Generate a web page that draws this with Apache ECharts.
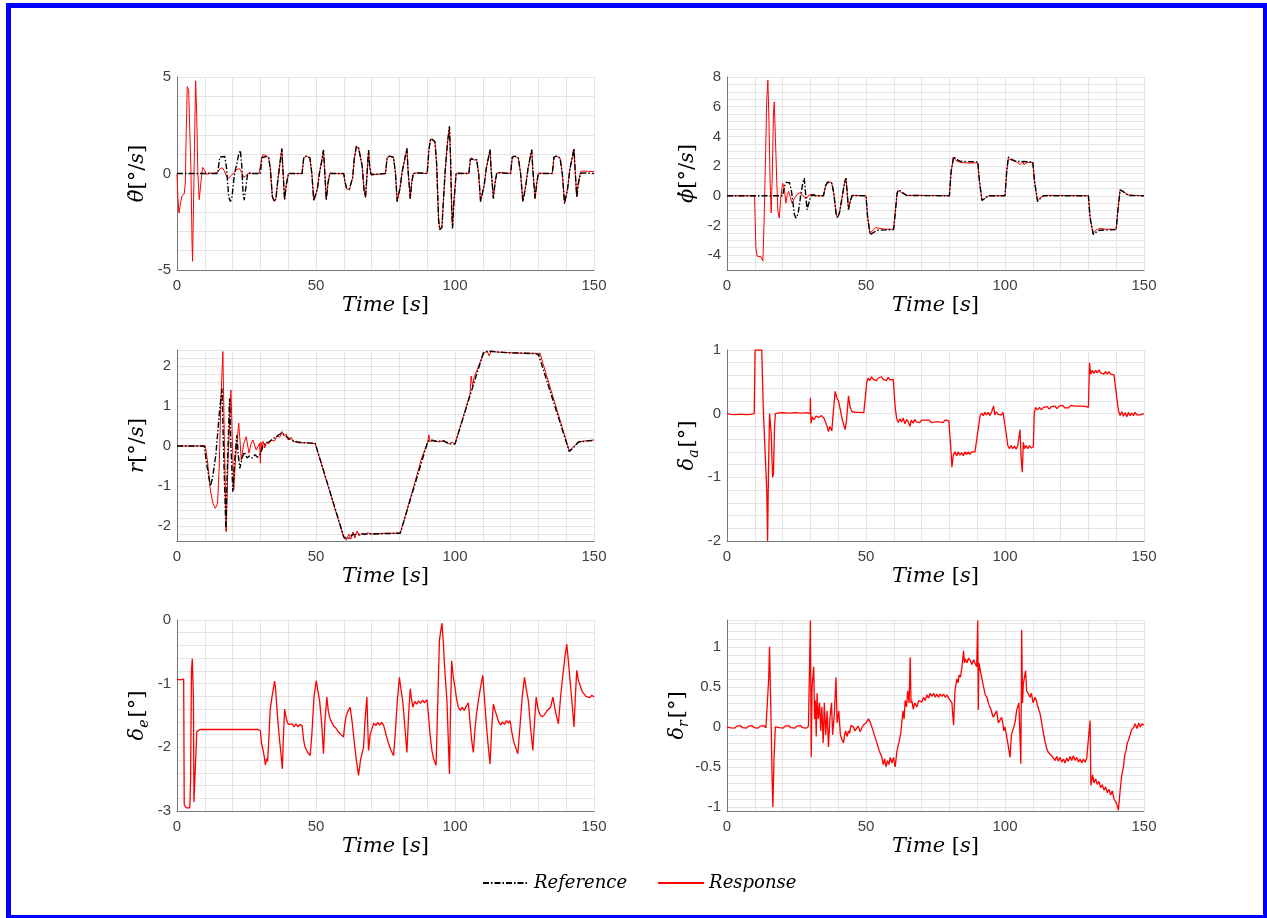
<!DOCTYPE html>
<html><head><meta charset="utf-8">
<script src="https://cdn.jsdelivr.net/npm/echarts@6/dist/echarts.min.js"></script>
<style>
html,body{margin:0;padding:0;background:#fff;overflow:hidden;}
#chart{position:absolute;left:0;top:0;width:1267px;height:918px;}
#frame{position:absolute;left:6px;top:3px;width:1262px;height:917px;box-sizing:border-box;border:5px solid #0000ff;pointer-events:none;}
</style></head><body>
<div id="chart"></div><div id="frame"></div>
<script>
// ---------- tick labels ----------
const timeTickLabels = [0, 50, 100, 150];
const thetaTicks = [-5, 0, 5];
const phiTicks = [-4, -2, 0, 2, 4, 6, 8];
const rTicks = [-2, -1, 0, 1, 2];
const daTicks = [-2, -1, 0, 1];
const deTicks = [-3, -2, -1, 0];
const drTicks = [-1, -0.5, 0, 0.5, 1];

// ---------- data: [time s, value] ----------
const thetaDotRef = [[0,0],[14.6,0],[15.4,0.85],[16,0.92],[17.2,0.88],[17.8,0.3],[18.6,-1.2],[19.2,-1.45],[19.8,-1.2],[20.6,-0.1],[21.2,0.3],[22.2,1.0],[22.8,1.2],[23.3,0.4],[23.8,-1.1],[24.2,-1.38],[24.7,-0.8],[25.4,0],[26,0.05],[26.6,0],[30,0],
[30.5,0.82],[31,0.92],[32,0.88],[33,0.82],[33.6,0.2],[34.3,-1.2],[35,-1.45],[35.6,-1.3],[36.3,-0.3],[37,0.5],[37.7,1.28],[38.1,0.2],[38.7,-1.35],[39.3,-0.6],[40.1,0],[40.8,0.05],[41.5,0],[45,0],
[45.6,0.85],[46.5,0.9],[47.8,0.82],[48.5,0],[49.2,-1.4],[49.8,-1.45],[50.5,-0.8],[51.2,0],[52,0.6],[52.7,1.22],[53.1,0.2],[53.7,-1.35],[54.3,-0.5],[55,0],[55.7,0.05],[56.5,0],[60,0],
[60.4,-0.4],[61,-0.75],[62,-0.8],[62.6,-0.85],[63.2,-0.2],[63.8,0.8],[64.5,1.4],[65.3,1.35],[66,1.3],[66.6,0.4],[67.3,-0.9],[67.8,-1.2],[68.2,-0.4],[68.9,1.22],[69.3,0.4],[69.8,-0.05],[70.5,0],[75,0],
[75.6,0.85],[76.5,0.9],[77.9,0.84],[78.6,0],[79.2,-1.45],[79.7,-1.47],[80.3,-0.7],[81,0.1],[82.7,1.3],[83.1,0.2],[83.9,-1.3],[84.4,-0.5],[85,0],[86,0.03],[90,0],
[90.6,1.2],[91.2,1.8],[92,1.75],[92.8,1.65],[93.4,0.5],[94.1,-2.4],[94.5,-2.92],[95.3,-2.8],[95.8,-1.5],[96.5,0.2],[97.3,1.6],[98,2.45],[98.4,0.8],[98.8,-1.8],[99.1,-2.85],[99.6,-1.5],[100.4,0],[101,0.05],[102,0],[105,0],
[105.5,0.75],[106,0.8],[107.8,0.72],[108.5,0],[109.2,-1.45],[109.8,-1.52],[110.5,-0.6],[111.3,0.3],[112.6,1.24],[113,0.2],[113.8,-1.3],[114.4,-0.5],[115,0],[116,0.03],[120,0],
[120.6,0.85],[121.5,0.9],[122.8,0.8],[123.6,0],[124.4,-1.45],[124.9,-1.47],[125.5,-0.6],[126.3,0.3],[127.6,1.24],[128,0.2],[128.8,-1.3],[129.4,-0.5],[130,0],[135,0],
[135.6,0.85],[136.5,0.9],[137.8,0.8],[138.6,0],[139.4,-1.55],[139.9,-1.6],[140.5,-0.8],[141.3,0.2],[142.8,1.29],[143.2,0.2],[143.8,-1.24],[144.4,-0.5],[145.2,0],[146,0.03],[150,0]];

const thetaDotResp = [[0,0],[0.3,-1.2],[0.7,-2.05],[1.2,-1.6],[1.8,-1.15],[2.6,-1.05],[3,-0.5],[3.3,2],[3.7,4.5],[4.2,4.3],[4.6,2.2],[5,0.3],[5.4,-3.5],[5.6,-4.55],[5.9,-2],[6.3,1.5],[6.7,4.8],[7.1,3],[7.5,0],[8,-1.35],[8.5,-0.6],[9.2,0.32],[9.8,0.2],[10.6,-0.05],[11.5,0.03],[13,0],[14.5,0.05],[15.5,0.25],[16.3,0.3],[17,0.15],[17.8,-0.15],[18.6,-0.25],[19.5,-0.1],[20.5,0.05],[21.5,0.2],[22.5,0.25],[23.3,0.05],[24,-0.2],[25,-0.1],[26,0.05],[27,0],[29.5,0],
[30,0.02],[30.5,0.8],[31,0.98],[31.6,0.9],[32.2,0.92],[33,0.8],[33.6,0.2],[34.3,-1.2],[35,-1.45],[35.6,-1.32],[36.3,-0.3],[37,0.5],[37.7,1.3],[38.1,0.2],[38.7,-1.35],[39.3,-0.6],[40.1,0],[40.8,0.08],[41.5,0],[45,0],
[45.6,0.82],[46.5,0.9],[47.8,0.8],[48.5,0],[49.2,-1.4],[49.8,-1.45],[50.5,-0.8],[51.2,0],[52,0.6],[52.7,1.22],[53.1,0.2],[53.7,-1.35],[54.3,-0.5],[55,0.02],[55.7,0.06],[56.5,0],[60,-0.02],
[60.4,-0.45],[61,-0.8],[62,-0.85],[62.6,-0.88],[63.2,-0.2],[63.8,0.8],[64.5,1.38],[65.3,1.32],[66,1.28],[66.6,0.4],[67.3,-0.9],[67.8,-1.25],[68.2,-0.4],[68.9,1.2],[69.3,0.4],[69.8,-0.08],[70.5,0],[75,0],
[75.6,0.82],[76.5,0.9],[77.9,0.82],[78.6,0],[79.2,-1.45],[79.7,-1.45],[80.3,-0.7],[81,0.1],[82.7,1.28],[83.1,0.2],[83.9,-1.28],[84.4,-0.5],[85,0],[86,0.03],[90,0],
[90.6,1.2],[91.2,1.78],[92,1.72],[92.8,1.6],[93.4,0.5],[94.1,-2.4],[94.5,-2.88],[95.3,-2.75],[95.8,-1.5],[96.5,0.2],[97.3,1.6],[98,2.42],[98.4,0.8],[98.8,-1.8],[99.1,-2.8],[99.6,-1.5],[100.4,0.02],[101,0.08],[102,0.02],[105,0],
[105.5,0.7],[106,0.82],[106.7,0.7],[107.3,0.75],[107.8,0.7],[108.5,0],[109.2,-1.45],[109.8,-1.5],[110.5,-0.6],[111.3,0.3],[112.6,1.22],[113,0.2],[113.8,-1.25],[114.4,-0.5],[115,0.02],[116,0.05],[120,0],
[120.6,0.82],[121.5,0.9],[122.8,0.8],[123.6,0],[124.4,-1.45],[124.9,-1.45],[125.5,-0.6],[126.3,0.3],[127.6,1.22],[128,0.2],[128.8,-1.28],[129.4,-0.5],[130,0.02],[135,0],
[135.6,0.82],[136.5,0.9],[137.8,0.8],[138.6,0],[139.4,-1.55],[139.9,-1.58],[140.5,-0.8],[141.3,0.2],[142.8,1.27],[143.2,0.2],[143.8,-1.22],[144.4,-0.4],[145.2,0.1],[146,0.13],[148,0.11],[150,0.1]];

const phiDotRef = [[0,0],[20,0],[20.6,0.6],[21.2,0.9],[22.5,0.88],[23.2,0.3],[24.3,-1.3],[24.9,-1.5],[25.6,-1.2],[26.5,0],[27.3,0.9],[27.8,1.18],[28.2,0.3],[28.8,-0.94],[29.4,-0.5],[30.2,0],[31,0.05],[32,0],[34.7,0],
[35.5,0.7],[36.2,0.9],[37.7,0.85],[38.4,0.2],[39.3,-1.3],[39.8,-1.5],[40.5,-1.1],[41.5,0],[42.3,0.9],[42.8,1.18],[43.2,0.3],[43.7,-0.94],[44.3,-0.4],[45,0],[46,0.02],[50,0],
[50.6,-1.5],[51.5,-2.6],[52.5,-2.5],[54,-2.32],[59.9,-2.28],[60.5,-1.2],[61.2,0.2],[61.8,0.4],[62.8,0.25],[64.7,0.02],[80,0],
[80.6,1.6],[81.5,2.64],[82.5,2.45],[84,2.32],[90.2,2.28],[90.8,1],[91.7,-0.32],[92.6,-0.2],[94,0],[100,0],
[100.6,1.6],[101.2,2.6],[102.3,2.45],[104,2.32],[110,2.28],[110.6,1],[111.7,-0.38],[112.6,-0.2],[113.8,0],[130,0],
[130.6,-1.5],[131.8,-2.61],[132.8,-2.45],[134,-2.32],[140,-2.28],[140.6,-1],[141.4,0.4],[142.4,0.3],[144.4,0.02],[150,0]];

const phiDotResp = [[0,0],[9.9,0],[10.4,-3.5],[10.8,-4.07],[12.2,-4.1],[12.9,-4.4],[13.3,-2],[13.8,2],[14.3,6.5],[14.7,7.78],[15.1,5],[15.5,1],[15.9,-1.16],[16.3,1.5],[16.7,5.5],[17,6.32],[17.4,4],[17.9,1],[18.3,-1],[18.8,-1.5],[19.3,-0.2],[20,0.85],[20.6,0.5],[21.2,-0.5],[21.7,0.1],[22.2,0.3],[22.8,-0.1],[23.4,-0.5],[24.2,-0.2],[25,0.05],[26,0.2],[27,0.1],[27.8,-0.1],[28.7,-0.15],[29.5,0.05],[30.2,0.05],[31,0.1],[32,0],[34.7,0],
[35.5,0.7],[36.2,0.95],[37.6,0.9],[38.4,0.2],[39.3,-1.3],[39.8,-1.45],[40.5,-1.1],[41.5,0],[42.3,0.9],[42.8,1.2],[43.2,0.3],[43.7,-0.9],[44.3,-0.4],[45,0.05],[46,0.02],[50,0],
[50.6,-1.4],[51.4,-2.55],[52.5,-2.3],[53.5,-2.15],[55,-2.2],[57,-2.25],[59.9,-2.25],[60.5,-1.2],[61.2,0.2],[61.8,0.35],[62.8,0.2],[64.7,0.02],[68,0.03],[80,0],
[80.6,1.6],[81.5,2.6],[82.5,2.35],[84,2.25],[87,2.2],[90.2,2.22],[90.8,1],[91.7,-0.3],[92.6,-0.2],[94,0],[100,0],
[100.6,1.6],[101.2,2.5],[102.3,2.4],[104,2.3],[105.5,2.1],[106,2.0],[106.4,2.3],[106.8,2.1],[108,2.25],[110,2.25],[110.6,1],[111.7,-0.35],[112.6,-0.15],[113.8,0],[115,0.03],[130,0],
[130.6,-1.4],[131.6,-2.55],[132.8,-2.3],[134,-2.2],[136,-2.25],[140,-2.25],[140.6,-1],[141.4,0.4],[142.4,0.3],[144.4,0.05],[150,0]];

const rRef = [[0,0],[9.8,0],[10.8,-0.5],[12,-1.0],[12.8,-0.8],[14,-0.2],[15.2,0.8],[16.2,1.44],[16.7,0],[17.6,-2.1],[18,-0.8],[18.9,1.19],[19.4,0],[20.1,-1.14],[20.7,-0.4],[21.5,0.27],[22,-0.2],[22.6,-0.56],[23.4,-0.3],[24.2,-0.15],[25.2,-0.3],[26,-0.25],[27,-0.3],[28,-0.22],[29,-0.28],[30,-0.2],[31,0.02],[33,0.1],[35,0.2],[37.7,0.33],[39,0.25],[41,0.15],[43,0.1],[46,0.08],[49.7,0.07],
[60,-2.27],[61.5,-2.33],[63,-2.22],[66,-2.2],[70,-2.2],[75,-2.19],[80.3,-2.18],[90.2,0.11],[91,0.15],[93,0.12],[96,0.12],[98,0.06],[100,0.05],
[110.2,2.33],[112,2.37],[115,2.35],[120,2.33],[125,2.32],[130,2.3],[141.1,-0.14],[142.5,-0.05],[144.4,0.1],[147,0.12],[150,0.14]];

const rResp = [[0,0],[10.2,0],[11,-0.4],[12,-1.1],[12.9,-1.43],[13.8,-1.56],[14.6,-1.43],[15.2,-0.5],[15.8,1.2],[16.5,2.36],[17,0.3],[17.7,-2.14],[18.3,-0.5],[19.4,1.4],[19.9,0.2],[20.4,-1.1],[21.2,-0.2],[22.2,0.57],[22.7,0.1],[23.1,-0.35],[24,0.05],[24.9,0.23],[25.9,-0.18],[26.6,0.05],[27.3,0.15],[28.5,-0.1],[29.7,0.07],
[30,-0.43],[30.2,0.1],[30.5,-0.1],[31,0.12],[31.6,-0.05],[32.2,0.1],[33,0.05],[34,0.15],[35,0.12],[36,0.25],[37,0.22],[37.7,0.36],[38.5,0.25],[39.3,0.3],[40,0.15],[41,0.22],[42,0.1],[43,0.12],[44,0.08],[46,0.08],[49.7,0.06],
[60,-2.3],[61,-2.35],[61.8,-2.2],[62.5,-2.33],[63.3,-2.15],[64,-2.3],[64.8,-2.12],[65.5,-2.25],[66.5,-2.18],[67.5,-2.22],[68.5,-2.17],[70,-2.2],[75,-2.18],[80.3,-2.18],[85,-1.05],[88,-0.3],
[90.2,0.1],[90.6,0.28],[91,0.1],[92,0.15],[94,0.1],[96,0.14],[97,0.08],[98,0.05],[99,0.1],[100,0.05],[105.4,1.3],[105.8,1.75],[106.3,1.5],[106.8,1.7],[110.2,2.3],[111.5,2.38],[112.3,2.25],[113,2.38],[115,2.35],[120,2.33],[125,2.32],[129,2.32],[130,2.25],[130.5,2.33],
[141.1,-0.12],[142.5,-0.03],[144.4,0.1],[147,0.13],[150,0.15]];

const deltaAResp = [[0,0],[0.7,0.015],[1.4,-0.012],[2.1,0.01],[2.8,-0.015],[3.5,0.012],[4.2,-0.01],[4.9,0.015],[5.6,-0.012],[6.3,0.01],[7,-0.015],[7.7,0.012],[8.4,-0.01],[9.1,0.012],[9.8,0],
[10.1,1],[12.5,1],[13.1,0.02],[13.8,0],[14.3,-1.2],[14.6,-2.0],[14.9,-1.0],[15.3,0],[15.9,-0.3],[16.4,-1.0],[16.7,-0.95],[17.1,-0.2],[17.4,0],
[18,-0.02],[18.7,0.012],[19.4,-0.012],[20.1,0.015],[20.8,-0.01],[21.5,0.012],[22.2,-0.015],[22.9,0.01],[23.6,-0.012],[24.3,0.015],[25,-0.01],[25.7,0.012],[26.4,-0.015],[27.1,0.01],[27.8,-0.012],[28.5,0.015],[29.2,-0.01],[29.9,0],
[30,0.25],[30.2,-0.15],[30.6,-0.05],[31.2,-0.1],[32,-0.04],[33,-0.06],[34,-0.03],[35,-0.08],[36,-0.2],[36.5,-0.28],[37,-0.2],[37.7,-0.27],[38.2,0],[38.9,0.35],[39.5,0.25],[40.1,0.2],[40.8,0.05],[41.5,-0.1],[42.5,-0.25],[43,-0.1],[43.7,0.28],[44.3,0.1],
[45,0.03],[45.7,0.0],[46.4,0.02],[47.1,-0.01],[47.8,0.02],[48.5,-0.005],[49.2,0.015],[49.7,0],
[50.3,0.5],[50.8,0.56],[51.4,0.52],[52,0.58],[52.6,0.54],[53.2,0.57],[53.8,0.52],[54.4,0.56],[55,0.53],[55.6,0.58],[56.2,0.54],[56.8,0.56],[57.4,0.52],[58,0.57],[58.6,0.53],[59.2,0.56],[59.8,0.54],
[60.5,0.1],[61,-0.07],[61.6,-0.14],[62.2,-0.08],[62.8,-0.13],[63.4,-0.07],[64,-0.16],[64.6,-0.09],[65.2,-0.13],[65.8,-0.2],[66.3,-0.1],[66.9,-0.15],[67.5,-0.09],[68.1,-0.13],[68.7,-0.1],[69.3,-0.14],[70,-0.1],[70.7,-0.13],[71.4,-0.1],[72.1,-0.13],[72.8,-0.1],[73.5,-0.14],[74.2,-0.11],[74.9,-0.13],[75.6,-0.1],[76.3,-0.13],[77,-0.11],[77.7,-0.14],[78.4,-0.1],[79.1,-0.13],[79.8,-0.11],
[80.6,-0.6],[80.9,-0.84],[81.4,-0.65],[82,-0.6],[82.6,-0.66],[83.2,-0.6],[83.8,-0.65],[84.4,-0.61],[85,-0.66],[85.6,-0.6],[86.2,-0.64],[86.8,-0.6],[87.4,-0.64],[88,-0.6],[88.6,-0.63],[89.2,-0.6],[89.9,-0.62],
[90.5,-0.2],[91,-0.04],[91.6,0.01],[92.2,-0.03],[92.8,0.02],[93.4,-0.02],[94,0.02],[94.6,-0.03],[95.2,0.03],[95.9,0.12],[96.3,-0.02],[96.9,0.03],[97.5,-0.01],[98.1,0.02],[98.7,-0.02],[99.3,0.02],[100,0],
[100.4,-0.3],[101,-0.5],[101.6,-0.55],[102.2,-0.5],[102.8,-0.55],[103.4,-0.51],[104,-0.56],[104.6,-0.5],[105,-0.52],[105.4,-0.25],[105.8,-0.7],[106.2,-0.92],[106.6,-0.45],[107,-0.55],[107.6,-0.5],[108.2,-0.55],[108.8,-0.5],[109.4,-0.54],[110.2,-0.52],
[110.5,0],[111,0.1],[111.7,0.06],[112.4,0.1],[113.1,0.06],[113.8,0.1],[114.5,0.07],[115.2,0.11],[115.9,0.07],[116.6,0.11],[117.3,0.08],[118,0.12],[118.7,0.08],[119.4,0.12],[120.1,0.09],[120.8,0.13],[121.5,0.09],[122.2,0.12],[122.9,0.09],[123.6,0.13],[124.3,0.1],[125,0.12],[125.7,0.09],[126.4,0.12],[127.1,0.09],[127.8,0.12],[128.5,0.09],[129.2,0.11],[130,0.1],
[130.4,0.8],[130.8,0.62],[131.4,0.68],[132,0.63],[132.6,0.68],[133.2,0.64],[133.8,0.69],[134.4,0.64],[135,0.67],[135.6,0.62],[136.2,0.66],[136.8,0.62],[137.4,0.66],[138,0.62],[138.6,0.65],[139.2,0.61],[139.6,0.63],
[140.8,0.05],[141.4,-0.03],[142,0.03],[142.6,-0.04],[143.2,0.02],[143.8,-0.05],[144.4,0.02],[145,-0.03],[145.6,0.01],[146.2,-0.03],[146.8,0.02],[147.4,-0.02],[148,0.01],[148.6,-0.02],[149.2,0.01],[150,0]];

const deltaEResp = [[0,-0.93],[0.6,-0.91],[1.2,-0.94],[1.8,-0.91],[2.4,-0.93],[2.6,-2.9],[3.4,-2.95],[4.6,-2.95],[4.9,-2.5],[5.2,-0.8],[5.5,-0.61],[5.9,-1.2],[6.1,-2.86],[6.8,-2.85],[7.1,-1.76],
[7.5,-1.74],[8.2,-1.72],[8.9,-1.75],[9.6,-1.72],[10.3,-1.75],[11,-1.72],[11.7,-1.75],[12.4,-1.72],[13.1,-1.75],[13.8,-1.72],[14.5,-1.75],[15.2,-1.72],[15.9,-1.75],[16.6,-1.72],[17.3,-1.75],[18,-1.72],[18.7,-1.75],[19.4,-1.72],[20.1,-1.75],[20.8,-1.72],[21.5,-1.75],[22.2,-1.72],[22.9,-1.75],[23.6,-1.72],[24.3,-1.75],[25,-1.72],[25.7,-1.75],[26.4,-1.72],[27.1,-1.75],[27.8,-1.72],[28.5,-1.75],[29.2,-1.72],[30,-1.74],
[30.4,-1.94],[31,-2.05],[31.4,-2.15],[31.8,-2.28],[32.2,-2.18],[32.6,-2.22],[33,-1.9],[33.5,-1.42],[34.2,-1.2],[35.1,-0.96],[35.5,-1.1],[35.8,-1.3],[36.3,-1.6],[36.9,-1.89],[37.4,-2.1],[37.9,-2.34],[38.3,-1.8],[38.7,-1.4],[39.1,-1.5],[39.5,-1.58],[40.1,-1.64],[40.7,-1.67],[41.4,-1.63],[42.1,-1.68],[42.8,-1.63],[43.5,-1.68],[44.2,-1.64],[45,-1.66],
[45.6,-1.9],[46.1,-2.0],[47,-2.08],[47.9,-2.13],[48.5,-1.8],[49.3,-1.2],[50.1,-0.95],[50.7,-1.12],[51.3,-1.27],[52,-1.6],[52.7,-2.1],[53.2,-1.6],[53.9,-1.21],[54.4,-1.42],[54.9,-1.53],[55.6,-1.6],[56.3,-1.66],[57.2,-1.7],[58.1,-1.76],[59,-1.8],[59.9,-1.84],
[60.4,-1.62],[60.9,-1.5],[61.6,-1.42],[62.3,-1.37],[63,-1.6],[63.7,-1.89],[64.5,-2.2],[65.3,-2.44],[66,-2.2],[67.1,-2.0],[67.6,-1.6],[68.3,-1.21],[68.9,-2.05],[69.5,-1.8],[70.1,-1.71],[70.8,-1.62],[71.5,-1.66],[72.2,-1.61],[72.9,-1.65],[73.6,-1.61],[74.3,-1.65],[74.9,-1.63],
[75.5,-1.85],[76.1,-1.94],[77,-2.05],[77.9,-2.13],[78.5,-1.8],[79.2,-1.3],[80,-0.9],[80.6,-1.1],[81.2,-1.27],[82,-1.7],[82.7,-2.08],[83.3,-1.5],[83.9,-1.08],[84.4,-1.25],[84.8,-1.37],[85.5,-1.28],[86.2,-1.32],[86.9,-1.27],[87.6,-1.31],[88.3,-1.26],[89,-1.3],[89.9,-1.25],
[90.5,-1.5],[91,-1.79],[91.7,-2.05],[92.3,-2.18],[93.2,-2.28],[93.8,-1.3],[94.4,-0.32],[95.3,-0.05],[95.8,-0.35],[96.2,-0.7],[97.1,-1.27],[97.6,-1.9],[98,-2.42],[98.4,-1.4],[98.8,-0.64],[99.4,-0.9],[100,-1.06],[100.6,-1.25],[101.2,-1.37],[101.9,-1.42],[102.6,-1.37],[103.3,-1.42],[104,-1.36],[104.8,-1.3],
[105.4,-1.6],[106,-1.89],[106.6,-2.08],[107.2,-1.7],[107.8,-1.45],[108.4,-1.27],[109.2,-1.05],[110,-0.87],[110.7,-1.3],[111.4,-1.71],[112,-2.0],[112.6,-2.26],[113.2,-1.7],[113.8,-1.32],[114.4,-1.42],[115,-1.5],[115.7,-1.6],[116.4,-1.65],[117.1,-1.6],[117.8,-1.64],[118.5,-1.58],[119.2,-1.62],[119.8,-1.58],
[120.4,-1.75],[121,-1.89],[121.8,-2.0],[122.6,-2.1],[123.5,-1.6],[124.2,-1.2],[125,-0.9],[125.7,-1.1],[126.4,-1.27],[127.2,-1.7],[128,-2.05],[128.6,-1.6],[129.2,-1.21],[129.8,-1.38],[130.4,-1.47],[131.2,-1.52],[132,-1.5],[133.2,-1.42],[134.4,-1.37],[135.2,-1.21],
[136.2,-1.45],[137.2,-1.63],[137.9,-1.25],[138.7,-0.9],[139.5,-0.6],[140.2,-0.38],[140.8,-0.65],[141.4,-0.95],[142.1,-1.3],[142.8,-1.68],[143.3,-1.2],[143.8,-0.79],[144.4,-0.95],[145,-1.03],[145.7,-1.12],[146.4,-1.16],[147.1,-1.2],[147.8,-1.17],[148.5,-1.22],[149.2,-1.18],[150,-1.21]];

const deltaRResp = [[0,0],[0.7,0.015],[1.4,-0.012],[2.1,0.012],[2.8,-0.015],[3.5,0.01],[4.2,-0.012],[4.9,0.015],[5.6,-0.01],[6.3,0.012],[7,-0.015],[7.7,0.01],[8.4,-0.012],[9.1,0.015],[9.8,-0.01],[10.5,0.012],[11.2,-0.015],[11.9,0.01],[12.6,-0.012],[13.3,0.015],[14,-0.01],[14.6,0],
[15,0.6],[15.3,1.0],[15.6,0.5],[15.9,0],[16.2,-0.6],[16.5,-1.0],[16.9,-0.4],[17.4,0],
[18.1,0.015],[18.8,-0.01],[19.5,0.012],[20.2,-0.015],[20.9,0.01],[21.6,-0.012],[22.3,0.015],[23,-0.01],[23.7,0.012],[24.4,-0.015],[25.1,0.01],[25.8,-0.012],[26.5,0.015],[27.2,-0.01],[27.9,0.012],[28.6,-0.015],[29.3,0.01],[29.7,0],
[30,1.33],[30.3,-0.38],[30.6,0.5],[31.2,0.75],[31.5,0.1],[31.8,0.33],[32.1,-0.12],[32.4,0.42],[32.8,0.1],[33.3,0.3],[33.7,-0.05],[34.1,0.25],[34.6,-0.2],[35,0.3],[35.5,-0.1],[36,0.2],[36.5,-0.25],[37,0.1],[37.6,0.3],[38,-0.1],[38.6,0.15],[39.2,0.62],[39.6,0.05],[40.2,0.2],[40.8,-0.1],[41.3,-0.15],[41.9,-0.2],[42.3,-0.1],[42.7,-0.05],[43.2,-0.12],[43.7,-0.05],[44.1,-0.08],[44.6,0.02],[45.5,0],[46,-0.05],[46.5,-0.04],[47.2,0.01],[47.9,-0.06],[48.5,-0.01],[49,0.02],[50,0.05],
[50.9,0.1],[51.5,0.06],[52.1,0],[53,-0.1],[53.9,-0.2],[54.8,-0.3],[55.7,-0.38],[56.2,-0.47],[56.7,-0.4],[57.2,-0.5],[57.7,-0.42],[58.2,-0.47],[58.7,-0.38],[59.3,-0.45],[59.9,-0.38],[60.5,-0.5],[61.1,-0.31],[61.8,-0.2],[62.5,-0.08],[63.3,0.2],[63.7,0.1],[64.1,0.33],[64.6,0.25],[65,0.45],[65.5,0.3],[65.9,0.87],[66.2,0.3],[66.5,0.33],[67,0.22],[67.5,0.3],[68.3,0.25],
[69,0.33],[69.5,0.35],[70.1,0.31],[70.7,0.37],[71.3,0.33],[71.9,0.4],[72.5,0.36],[73.1,0.42],[73.7,0.38],[74.3,0.42],[74.9,0.37],[75.5,0.41],[76.1,0.37],[76.7,0.41],[77.3,0.38],[77.9,0.41],[78.5,0.37],[79.1,0.4],[79.7,0.36],[80.3,0.37],
[80.9,0.3],[81.5,0.02],[82,0.45],[82.7,0.6],[83.1,0.55],[83.5,0.65],[84,0.62],[84.5,0.75],[85.1,0.95],[85.4,0.8],[85.7,0.85],[86.3,0.8],[86.9,0.86],[87.5,0.83],[88.1,0.78],[88.7,0.84],[89.3,0.79],[89.8,0.75],[90.2,1.33],[90.4,0.21],[90.6,0.8],[91.1,0.71],[91.7,0.6],[92.3,0.5],[92.9,0.4],[93.5,0.37],[94,0.3],[94.5,0.25],[95,0.22],[95.3,0.17],[95.8,0.12],[96.5,0.1],[97,0.2],[97.6,0.05],[98.3,0.06],[98.8,0.12],[99.2,0.05],[99.6,-0.05],[100,0],
[101,-0.2],[101.8,-0.38],[102.3,-0.1],[103,-0.08],[103.6,0.05],[104.2,0.21],[105,0.3],[105.7,-0.46],[106,1.21],[106.3,0.3],[106.6,0.54],[107,0.62],[107.4,0.7],[107.8,0.45],[108.3,0.42],[109,0.37],[109.5,0.42],[110.1,0.3],[110.8,0.37],[111.3,0.33],[111.6,0.28],[112.1,0.22],[112.6,0.17],[113.2,0.05],[113.8,-0.08],[114.4,-0.18],
[115,-0.27],[115.6,-0.32],[116.2,-0.3],[116.8,-0.36],[117.4,-0.38],[118,-0.42],[118.6,-0.37],[119.2,-0.43],[119.8,-0.38],[120.4,-0.44],[121,-0.4],[121.6,-0.45],[122.2,-0.39],[122.8,-0.43],[123.4,-0.37],[124,-0.42],[124.6,-0.36],[125.2,-0.42],[125.8,-0.38],[126.4,-0.44],[127,-0.4],[127.6,-0.45],[128.2,-0.4],[128.8,-0.44],[129.4,-0.39],[130,-0.4],
[130.6,0.08],[130.9,-0.73],[131.5,-0.6],[132,-0.7],[132.6,-0.65],[133.2,-0.72],[133.8,-0.68],[134.4,-0.76],[135,-0.72],[135.6,-0.79],[136.2,-0.75],[136.8,-0.82],[137.4,-0.78],[138,-0.85],[138.6,-0.8],[139.2,-0.9],[139.8,-0.88],[140.2,-0.96],[140.8,-1.04],
[141.4,-0.8],[142,-0.6],[142.6,-0.5],[143.1,-0.35],[143.5,-0.3],[144,-0.2],[144.4,-0.17],[145,-0.1],[145.5,-0.04],[146.2,-0.01],[146.8,0.04],[147.5,-0.02],[148.1,0.05],[148.7,0],[149.3,0.04],[150,0.02]];

// ---------- layout ----------
const chart = echarts.init(document.getElementById('chart'), null, {renderer: 'canvas'});
const serif = 'DejaVu Serif';
const nameRich = {
  m: {fontFamily: serif, fontStyle: 'italic', fontSize: 21, color: '#000', lineHeight: 26},
  n: {fontFamily: serif, fontStyle: 'normal', fontSize: 21, color: '#000', lineHeight: 26},
  sub: {fontFamily: serif, fontStyle: 'italic', fontSize: 14, color: '#000', lineHeight: 26, verticalAlign: 'bottom', padding: [0, 2, 0, 0]}
};
const cols = [177, 727];
const rows = [[77, 193], [350, 191], [620, 191]];
const panels = [
  {ref: thetaDotRef, resp: thetaDotResp, min: -5, max: 5, interval: 1, ticks: thetaTicks, name: '{m|\u03B8\u0307}{n|[\u00B0/}{m|s}{n|]}', gap: 26},
  {ref: phiDotRef, resp: phiDotResp, min: -5, max: 8, interval: 0.5, ticks: phiTicks, name: '{m|\u03D5\u0307}{n|[\u00B0/}{m|s}{n|]}', gap: 26},
  {ref: rRef, resp: rResp, min: -2.375, max: 2.4, splitNumber: 24, ticks: rTicks, name: '{m|r}{n|[\u00B0/}{m|s}{n|]}', gap: 26},
  {ref: null, resp: deltaAResp, min: -2, max: 1, interval: 0.2, ticks: daTicks, name: '{m|\u03B4}{sub|a}{n|[\u00B0]}', gap: 26},
  {ref: null, resp: deltaEResp, min: -3, max: 0, interval: 0.2, ticks: deTicks, name: '{m|\u03B4}{sub|e}{n|[\u00B0]}', gap: 26},
  {ref: null, resp: deltaRResp, min: -1.05, max: 1.335, splitNumber: 24, ticks: drTicks, name: '{m|\u03B4}{sub|r}{n|[\u00B0]}', gap: 36}
];
const grid = [], xAxis = [], yAxis = [], series = [];
const gridLine = {show: true, lineStyle: {color: '#e4e4e4', width: 1}};
const labelStyle = {fontFamily: 'Liberation Sans', fontSize: 15, color: '#404040'};
function pick(list) {
  return function (v) {
    for (const t of list) { if (Math.abs(t - v) < 1e-6) return String(t); }
    return '';
  };
}
panels.forEach((p, i) => {
  const r = rows[Math.floor(i / 2)], c = cols[i % 2];
  grid.push({left: c, top: r[0], width: 417, height: r[1], containLabel: false});
  xAxis.push({type: 'value', gridIndex: i, min: 0, max: 150, interval: 10,
    axisLine: {show: true, onZero: false, lineStyle: {color: '#777', width: 1}},
    axisTick: {show: false}, splitLine: gridLine,
    axisLabel: Object.assign({margin: 8, formatter: pick(timeTickLabels)}, labelStyle),
    name: '{m|Time }{n|[}{m|s}{n|]}', nameLocation: 'middle', nameGap: 23,
    nameTextStyle: {rich: nameRich}});
  const ya = {type: 'value', gridIndex: i, min: p.min, max: p.max,
    axisLine: {show: true, onZero: false, lineStyle: {color: '#777', width: 1}},
    axisTick: {show: false}, splitLine: gridLine,
    axisLabel: Object.assign({margin: 6, formatter: pick(p.ticks)}, labelStyle),
    name: p.name, nameLocation: 'middle', nameRotate: 90, nameGap: p.gap,
    nameTextStyle: {rich: nameRich}};
  if (p.interval) ya.interval = p.interval; else ya.splitNumber = p.splitNumber;
  yAxis.push(ya);
  series.push({name: 'Response', type: 'line', xAxisIndex: i, yAxisIndex: i, data: p.resp,
    symbol: 'none', showSymbol: false, z: 2, clip: true,
    lineStyle: {color: '#ff0000', width: i >= 3 ? 1.3 : 1}, itemStyle: {color: '#ff0000'}});
  if (p.ref) series.push({name: 'Reference', type: 'line', xAxisIndex: i, yAxisIndex: i, data: p.ref,
    symbol: 'none', showSymbol: false, z: 3, clip: true,
    lineStyle: {color: '#000', width: 1.4, type: [6, 2, 1.5, 2]}, itemStyle: {color: '#000'}});
});
chart.setOption({
  animation: false,
  backgroundColor: '#fff',
  grid, xAxis, yAxis, series,
  legend: {data: ['Reference', 'Response'], left: 477, top: 869, itemWidth: 46, itemHeight: 14, itemGap: 30,
    itemStyle: {opacity: 0},
    textStyle: {fontFamily: serif, fontStyle: 'italic', fontSize: 18, color: '#000'}}
});
</script>
</body></html>
